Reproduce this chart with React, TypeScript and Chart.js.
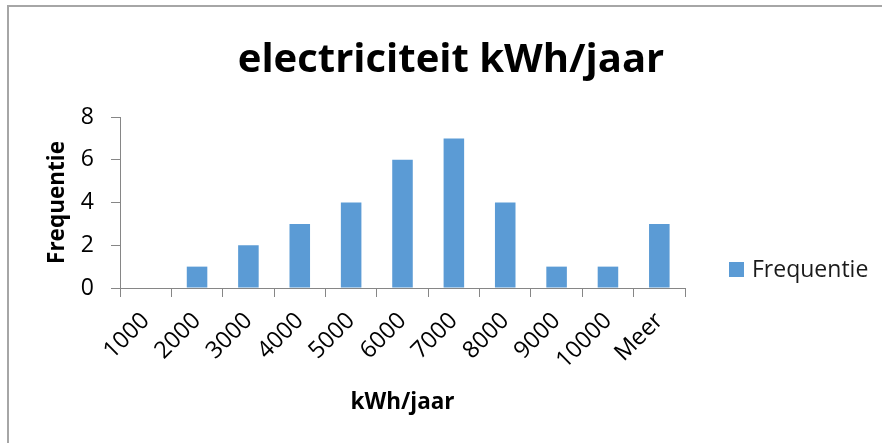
import React, { useEffect, useRef } from 'react';
import { Chart, registerables } from 'chart.js';

Chart.register(...registerables);

const categories: string[] = ['1000', '2000', '3000', '4000', '5000', '6000', '7000', '8000', '9000', '10000', 'Meer'];
const frequencies: number[] = [0, 1, 2, 3, 4, 6, 7, 4, 1, 1, 3];
const yTickValues: number[] = [0, 2, 4, 6, 8];
const seriesLabel = 'Frequentie';
const chartTitle = 'electriciteit kWh/jaar';
const xAxisTitle = 'kWh/jaar';
const yAxisTitle = 'Frequentie';

const BAR_COLOR = '#5B9BD5';
const AXIS_COLOR = '#868686';
const FONT = '"Open Sans", "Noto Sans", sans-serif';

const sideLegend = {
  id: 'sideLegend',
  afterDraw(chart: any) {
    const { ctx, chartArea } = chart;
    const ds = chart.data.datasets[0];
    const x = chartArea.right + 44;
    const y = 270;
    ctx.save();
    ctx.fillStyle = ds.backgroundColor;
    ctx.fillRect(x, y - 8, 15, 15);
    ctx.font = `23px ${FONT}`;
    ctx.fillStyle = '#1a1a1a';
    ctx.textBaseline = 'middle';
    ctx.textAlign = 'left';
    ctx.fillText(ds.label, x + 23, y);
    ctx.restore();
  },
};

export default function App() {
  const canvasRef = useRef<HTMLCanvasElement | null>(null);

  useEffect(() => {
    if (!canvasRef.current) return;
    const chart = new Chart(canvasRef.current, {
      type: 'bar',
      data: {
        labels: categories,
        datasets: [
          {
            label: seriesLabel,
            data: frequencies,
            backgroundColor: BAR_COLOR,
            borderWidth: 0,
            categoryPercentage: 1,
            barPercentage: 0.4,
            yAxisID: 'y',
          },
        ],
      },
      plugins: [sideLegend],
      options: {
        responsive: false,
        animation: false,
        devicePixelRatio: 1,
        layout: { padding: { left: 20, right: 0, top: 0, bottom: 0 } },
        plugins: {
          legend: { display: false },
          tooltip: { enabled: false },
          title: {
            display: true,
            text: chartTitle,
            color: '#000',
            font: { family: FONT, size: 40, weight: 'bold', lineHeight: 1.2 },
            padding: { top: 37, bottom: 32 },
          },
        },
        scales: {
          x: {
            afterFit: (scale: any) => {
              scale.height = 155;
            },
            grid: {
              offset: true,
              drawOnChartArea: false,
              drawTicks: true,
              tickLength: 9,
              color: AXIS_COLOR,
            },
            border: { display: true, color: AXIS_COLOR, width: 1 },
            ticks: {
              autoSkip: false,
              maxRotation: 45,
              minRotation: 45,
              padding: 10,
              color: '#000',
              font: { family: FONT, size: 23.5 },
            },
            title: {
              display: true,
              text: xAxisTitle,
              color: '#000',
              font: { family: FONT, size: 22.5, weight: 'bold', lineHeight: 1.2 },
              padding: { top: 4, bottom: 26.5 },
            },
          },
          y: {
            min: 0,
            max: 8,
            afterFit: (scale: any) => {
              scale.width = 100;
            },
            afterBuildTicks: (scale: any) => {
              scale.ticks = yTickValues.map((v) => ({ value: v }));
            },
            grid: {
              drawOnChartArea: false,
              drawTicks: true,
              tickLength: 9,
              color: AXIS_COLOR,
            },
            border: { display: true, color: AXIS_COLOR, width: 1 },
            ticks: {
              padding: 17,
              color: '#000',
              font: { family: FONT, size: 23 },
            },
            title: {
              display: true,
              text: yAxisTitle,
              color: '#000',
              font: { family: FONT, size: 22.5, weight: 'bold', lineHeight: 1.2 },
              padding: { top: 24.5, bottom: 4 },
            },
          },
          spacer: {
            type: 'linear',
            position: 'right',
            display: true,
            afterFit: (scale: any) => {
              scale.width = 197;
            },
            grid: { display: false, drawTicks: false },
            border: { display: false },
            ticks: { display: false },
            title: { display: false },
          },
        },
      },
    });
    return () => chart.destroy();
  }, []);

  return (
    <div
      style={{
        position: 'fixed',
        left: 0,
        top: 0,
        width: 882,
        height: 443,
        background: '#fff',
        overflow: 'hidden',
      }}
    >
      <div
        style={{
          position: 'absolute',
          left: 7,
          top: 5,
          width: 900,
          height: 460,
          borderLeft: '2px solid #a6a6a6',
          borderTop: '2px solid #a6a6a6',
        }}
      />
      <canvas ref={canvasRef} width={882} height={443} style={{ position: 'absolute', left: 0, top: 0 }} />
    </div>
  );
}
